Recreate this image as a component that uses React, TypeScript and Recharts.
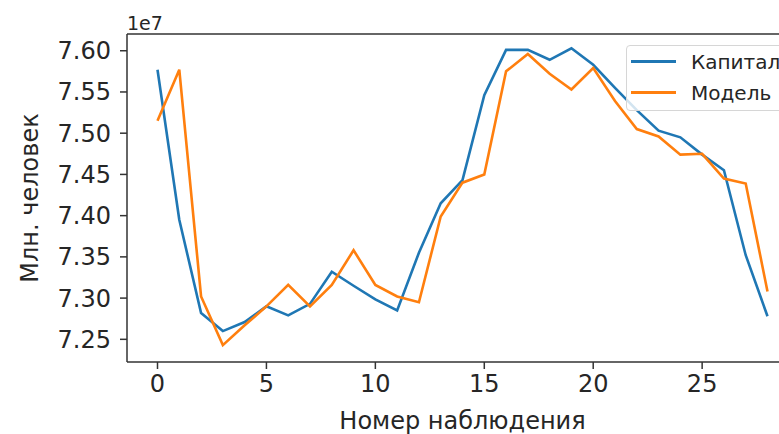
import { LineChart, Line, XAxis, YAxis, Legend, Label, ReferenceLine } from "recharts";

// observation index and two series, values in units of 1e7 people
const observations = [
  0, 1, 2, 3, 4, 5, 6, 7, 8, 9, 10, 11, 12, 13, 14, 15, 16, 17, 18, 19, 20, 21,
  22, 23, 24, 25, 26, 27, 28,
];
const capital = [
  7.577, 7.395, 7.282, 7.26, 7.271, 7.29, 7.279, 7.293, 7.332, 7.315, 7.2985,
  7.285, 7.355, 7.415, 7.443, 7.546, 7.601, 7.601, 7.589, 7.603, 7.583, 7.555,
  7.528, 7.503, 7.495, 7.474, 7.455, 7.352, 7.278,
];
const model = [
  7.515, 7.577, 7.302, 7.243, 7.267, 7.29, 7.316, 7.29, 7.316, 7.358, 7.316,
  7.302, 7.295, 7.399, 7.44, 7.45, 7.575, 7.596, 7.572, 7.553, 7.579, 7.539,
  7.505, 7.496, 7.474, 7.475, 7.445, 7.439, 7.308,
];
const xTicks = [0, 5, 10, 15, 20, 25];
const yTicks = [7.25, 7.3, 7.35, 7.4, 7.45, 7.5, 7.55, 7.6];
const yDomain = [7.2225, 7.6203];

const data = observations.map((n, i) => ({
  n,
  capital: capital[i],
  model: model[i],
}));

const FONT = "'DejaVu Sans', sans-serif";
const TEXT = "#262626";
const AXIS = "#333";

function LegendBox({ payload }: { payload?: Array<{ value: string; color: string }> }) {
  return (
    <div
      style={{
        border: "1px solid #d6d6d6",
        borderRadius: 4,
        background: "rgba(255,255,255,0.8)",
        padding: "0 10px 2px 4px",
        fontFamily: FONT,
        fontSize: 20,
        color: TEXT,
        width: 170,
      }}
    >
      {(payload || []).map((p) => (
        <div key={p.value} style={{ display: "flex", alignItems: "center", height: 31 }}>
          <span
            style={{
              display: "inline-block",
              width: 45,
              height: 3,
              background: p.color,
              marginRight: 15,
            }}
          />
          <span>{p.value}</span>
        </div>
      ))}
    </div>
  );
}

export default function App() {
  return (
    <div
      style={{
        position: "absolute",
        left: 0,
        top: 0,
        width: 779,
        height: 434,
        overflow: "hidden",
        background: "#fff",
      }}
    >
      <div
        style={{
          position: "absolute",
          left: 127,
          top: 11,
          fontFamily: FONT,
          fontSize: 19,
          color: TEXT,
          lineHeight: "24px",
        }}
      >
        1e7
      </div>
      <LineChart
        width={810}
        height={434}
        data={data}
        margin={{ top: 34, right: 12, bottom: 0, left: 0 }}
      >
        <XAxis
          dataKey="n"
          type="number"
          domain={[-1.4, 29.4]}
          ticks={xTicks}
          allowDataOverflow
          height={72}
          tickSize={7}
          tickMargin={6}
          tick={{ fill: TEXT, fontSize: 24, fontFamily: FONT }}
          tickLine={{ stroke: AXIS, strokeWidth: 1.5 }}
          axisLine={{ stroke: AXIS, strokeWidth: 1.5 }}
        >
          <Label
            value="Номер наблюдения"
            position="insideBottom"
            offset={5}
            style={{ fill: TEXT, fontSize: 24, fontFamily: FONT }}
          />
        </XAxis>
        <YAxis
          type="number"
          domain={yDomain}
          ticks={yTicks}
          allowDataOverflow
          width={127}
          tickSize={7}
          tickMargin={9}
          tickFormatter={(v: number) => v.toFixed(2)}
          tick={{ fill: TEXT, fontSize: 24, fontFamily: FONT }}
          tickLine={{ stroke: AXIS, strokeWidth: 1.5 }}
          axisLine={{ stroke: AXIS, strokeWidth: 1.5 }}
        >
          <Label
            content={() => (
              <text
                x={38}
                y={198}
                transform="rotate(-90 38 198)"
                textAnchor="middle"
                fill={TEXT}
                fontSize={24}
                fontFamily={FONT}
              >
                Млн. человек
              </text>
            )}
          />
        </YAxis>
        {/* top spine */}
        <ReferenceLine y={yDomain[1]} stroke={AXIS} strokeWidth={1.5} />
        <Legend
          layout="vertical"
          verticalAlign="middle"
          align="center"
          content={(props: any) => <LegendBox payload={props.payload} />}
          wrapperStyle={{ position: "absolute", left: 626, top: 45, width: "auto", height: "auto" }}
        />
        <Line
          dataKey="capital"
          name="Капитал"
          stroke="#1f77b4"
          strokeWidth={2.6}
          dot={false}
          isAnimationActive={false}
        />
        <Line
          dataKey="model"
          name="Модель"
          stroke="#ff7f0e"
          strokeWidth={2.6}
          dot={false}
          isAnimationActive={false}
        />
      </LineChart>
    </div>
  );
}
